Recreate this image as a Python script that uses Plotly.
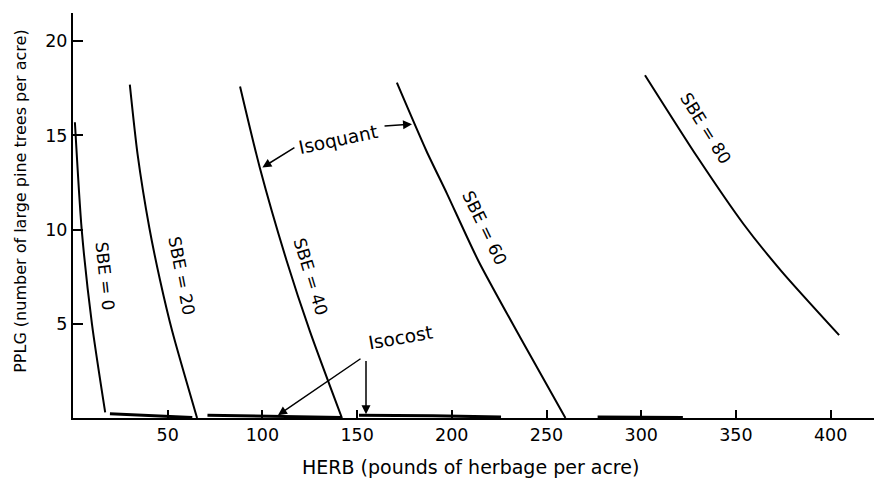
import plotly.graph_objects as go

# ---- data ----
herb_sbe0 = [1, 4.6, 10, 17]
pplg_sbe0 = [15.7, 10, 5, 0.3]

herb_sbe20 = [30, 34.1, 40.3, 46, 52.4, 65.5]
pplg_sbe20 = [17.7, 14, 10.1, 7.3, 4.6, 0]

herb_sbe40 = [88.2, 98.6, 112.8, 125.1, 142]
pplg_sbe40 = [17.6, 13.3, 8.35, 4.6, 0]

herb_sbe60 = [171, 186.5, 197.5, 214, 236, 260]
pplg_sbe60 = [17.8, 14.2, 11.9, 8.35, 4.3, 0]

herb_sbe80 = [302, 330, 354, 374, 404.5]
pplg_sbe80 = [18.2, 13.8, 10.3, 7.8, 4.4]

isocost_herb = [[19.5, 40, 63], [71, 105, 142], [151, 190, 226], [277, 300, 322]]
isocost_pplg = [[0.22, 0.12, 0.03], [0.15, 0.1, 0.03], [0.15, 0.12, 0.05], [0.05, 0.04, 0.03]]

sbe_labels = ["SBE = 0", "SBE = 20", "SBE = 40", "SBE = 60", "SBE = 80"]
label_x = [17, 57.5, 125.7, 217.5, 334]
label_y = [7.55, 7.55, 7.5, 10.1, 15.4]
label_angle = [84, 79, 73, 64, 58]

x_ticks = [50, 100, 150, 200, 250, 300, 350, 400]
y_ticks = [5, 10, 15, 20]

FONT = "DejaVu Sans"

fig = go.Figure()
curves = [(herb_sbe0, pplg_sbe0), (herb_sbe20, pplg_sbe20), (herb_sbe40, pplg_sbe40),
          (herb_sbe60, pplg_sbe60), (herb_sbe80, pplg_sbe80)]
for (hx, py), name in zip(curves, sbe_labels):
    fig.add_trace(go.Scatter(x=hx, y=py, mode="lines", name=name,
                             line=dict(color="black", width=2, shape="spline", smoothing=0.7),
                             showlegend=False, hoverinfo="skip"))

for hx, py in zip(isocost_herb, isocost_pplg):
    fig.add_trace(go.Scatter(x=hx, y=py, mode="lines",
                             line=dict(color="black", width=3),
                             showlegend=False, hoverinfo="skip"))

annotations = []
for t, x, y, a in zip(sbe_labels, label_x, label_y, label_angle):
    annotations.append(dict(x=x, y=y, xref="x", yref="y", text=t, showarrow=False,
                            textangle=a, font=dict(family=FONT, size=17, color="black")))

arrow_style = dict(text="", showarrow=True, arrowhead=2, arrowsize=1.2, arrowwidth=1.5,
                   arrowcolor="black", xref="x", yref="y", axref="x", ayref="y")

# Isoquant label and arrows
annotations.append(dict(x=140, y=14.8, xref="x", yref="y", text="Isoquant", showarrow=False,
                        textangle=-12, font=dict(family=FONT, size=18.5, color="black")))
annotations.append(dict(x=100, y=13.3, ax=117.7, ay=14.4, **arrow_style))
annotations.append(dict(x=179, y=15.6, ax=163.7, ay=15.5, **arrow_style))

# Isocost label and arrows
annotations.append(dict(x=173, y=4.3, xref="x", yref="y", text="Isocost", showarrow=False,
                        textangle=-10, font=dict(family=FONT, size=18.5, color="black")))
annotations.append(dict(x=108.2, y=0.15, ax=152.6, ay=3.2, **arrow_style))
annotations.append(dict(x=154.7, y=0.2, ax=154.7, ay=3.1, **arrow_style))

# Axis titles
annotations.append(dict(x=0.495, y=-0.121, xref="paper", yref="paper",
                        text="HERB (pounds of herbage per acre)", showarrow=False,
                        xanchor="center", yanchor="middle",
                        font=dict(family=FONT, size=19, color="black")))
annotations.append(dict(x=-0.0796, y=0.535, xref="paper", yref="paper",
                        text="PPLG (number of large pine trees per acre)", showarrow=False,
                        textangle=-90, xanchor="left", yanchor="middle",
                        font=dict(family=FONT, size=16, color="black")))

# the page body adds an 8 px offset, so the figure is 8 px smaller and margins compensate
fig.update_layout(
    width=874, height=475,
    margin=dict(l=65, r=5, t=5, b=65),
    paper_bgcolor="white", plot_bgcolor="white",
    annotations=annotations,
    font=dict(family=FONT, color="black"),
)
fig.update_xaxes(range=[0, 424.5], tickvals=x_ticks, ticks="inside", ticklen=8, tickwidth=2,
                 tickcolor="black", showline=True, linecolor="black", linewidth=2,
                 showgrid=False, zeroline=False, tickfont=dict(family=FONT, size=17.5, color="black"))
fig.update_yaxes(range=[0, 21.5], tickvals=y_ticks, ticks="inside", ticklen=10, tickwidth=2,
                 tickcolor="black", showline=True, linecolor="black", linewidth=2,
                 showgrid=False, zeroline=False, tickfont=dict(family=FONT, size=17.5, color="black"))

fig.write_html("out.html")
